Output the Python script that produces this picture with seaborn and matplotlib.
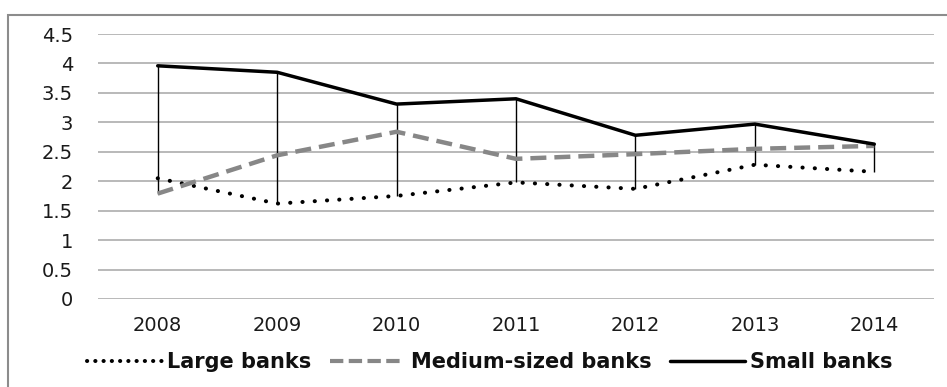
import matplotlib
matplotlib.use("Agg")
import matplotlib.pyplot as plt
import matplotlib.patches as mpatches
from matplotlib.lines import Line2D
import seaborn as sns
import pandas as pd

years = ["2008", "2009", "2010", "2011", "2012", "2013", "2014"]
large = [2.05, 1.62, 1.75, 1.98, 1.87, 2.28, 2.16]
medium = [1.79, 2.44, 2.84, 2.38, 2.46, 2.55, 2.60]
small = [3.96, 3.85, 3.31, 3.40, 2.78, 2.97, 2.63]
labels = ["Large banks", "Medium-sized banks", "Small banks"]
yticks = [0, 0.5, 1, 1.5, 2, 2.5, 3, 3.5, 4, 4.5]
ytick_labels = ["0", "0.5", "1", "1.5", "2", "2.5", "3", "3.5", "4", "4.5"]

sns.set_theme(style="white")
plt.rcParams["font.family"] = ["DejaVu Sans"]

W, H = 947, 387
fig = plt.figure(figsize=(W / 100, H / 100), dpi=100)
ax = fig.add_axes([98 / W, 1 - 299 / H, (934 - 98) / W, (299 - 34) / H])

df = pd.DataFrame({"year": years, "large": large, "medium": medium, "small": small})
pos = list(range(len(years)))

# high-low lines
highs = [max(a, b, c) for a, b, c in zip(large, medium, small)]
lows = [min(a, b, c) for a, b, c in zip(large, medium, small)]
ax.vlines(pos, lows, highs, color="black", linewidth=1.0, zorder=3)

sns.lineplot(data=df, x="year", y="large", ax=ax, color="black", linewidth=2.9,
             linestyle=(0, (0.05, 3.0)), sort=False, zorder=4)
ax.lines[-1].set_dash_capstyle("round")
sns.lineplot(data=df, x="year", y="medium", ax=ax, color="#878787", linewidth=3.2,
             linestyle=(0, (3.6, 1.8)), sort=False, zorder=4)
sns.lineplot(data=df, x="year", y="small", ax=ax, color="black", linewidth=2.5,
             sort=False, zorder=5)

ax.set_xlim(-0.5, len(years) - 0.5)
ax.set_ylim(0, 4.5)
ax.set_yticks(yticks)
ax.set_yticklabels(ytick_labels)
ax.set_xticks(pos)
ax.set_xticklabels(years)
ax.set_xlabel("")
ax.set_ylabel("")
ax.grid(axis="y", color="#a6a6a6", linewidth=1.1)
ax.grid(axis="x", visible=False)
for s in ax.spines.values():
    s.set_visible(False)
ax.tick_params(axis="y", length=0, pad=18, labelsize=14, labelcolor="#1a1a1a")
ax.tick_params(axis="x", length=0, pad=12, labelsize=14, labelcolor="#1a1a1a")

handles = [
    Line2D([], [], color="black", linewidth=2.9, linestyle=(0, (0.05, 2.0)),
           dash_capstyle="round"),
    Line2D([], [], color="#878787", linewidth=3.0, linestyle=(0, (3.2, 1.3))),
    Line2D([], [], color="black", linewidth=2.5),
]
leg = fig.legend(handles, labels, loc="center", bbox_to_anchor=(490 / W, 1 - 362 / H),
                 ncol=3, frameon=False, handlelength=3.6, handletextpad=0.25,
                 columnspacing=0.9, prop={"weight": "bold", "size": 15})
for t in leg.get_texts():
    t.set_color("#111111")

# outer chart frame
fig.add_artist(mpatches.Rectangle((8 / W, -0.1), 1.2, (H - 15) / H + 0.1,
                                  transform=fig.transFigure, fill=False,
                                  edgecolor="#8c8c8c", linewidth=1.5, clip_on=False))

fig.savefig("out.png", dpi=100)
